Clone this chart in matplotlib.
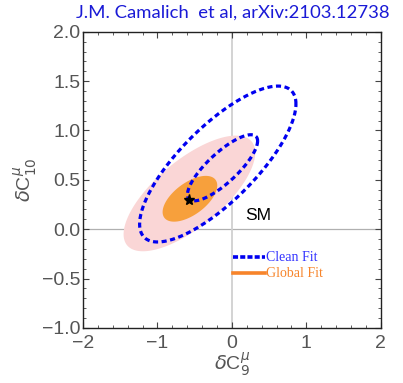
import numpy as np
import matplotlib
matplotlib.use("Agg")
import matplotlib.pyplot as plt
from matplotlib.ticker import MultipleLocator

# contour regions: centre, half-extent in x/y, correlation
global_center = [(-0.571, 0.362), (-0.564, 0.308)]   # 2 sigma, 1 sigma
global_half = [(0.884, 0.586), (0.367, 0.232)]
global_rho = [0.706, 0.58]
global_colors = ["#fad6d6", "#f7a03c"]

clean_center = [(-0.19, 0.66), (-0.126, 0.622)]   # outer, inner
clean_half = [(1.05, 0.79), (0.471, 0.335)]
clean_rho = [0.77, 0.809]

best_fit = (-0.58, 0.30)
sm_label_pos = (0.35, 0.14)

x_ticks = [-2, -1, 0, 1, 2]
y_ticks = [-1.0, -0.5, 0.0, 0.5, 1.0, 1.5, 2.0]


def ellipse(center, half, rho, n=400):
    t = np.linspace(0, 2 * np.pi, n)
    x = center[0] + half[0] * np.cos(t)
    y = center[1] + half[1] * (rho * np.cos(t) + np.sqrt(1 - rho**2) * np.sin(t))
    return x, y


fig = plt.figure(figsize=(4.03, 3.83), dpi=100)
ax = fig.add_axes([0.206, 0.144, 0.739, 0.773])
ax.set_xlim(-2, 2)
ax.set_ylim(-1, 2)

ax.axhline(0, color="#b0b0b0", lw=0.9, zorder=0)
ax.axvline(0, color="#d0d0d0", lw=1.3, zorder=0)

for c, h, r, col in zip(global_center, global_half, global_rho, global_colors):
    x, y = ellipse(c, h, r)
    ax.fill(x, y, color=col, lw=0, zorder=1)

for c, h, r in zip(clean_center, clean_half, clean_rho):
    x, y = ellipse(c, h, r)
    ax.plot(x, y, color="#0000f0", lw=2.3, dashes=(1.6, 1.1), zorder=3)

ax.plot(*best_fit, marker="*", color="black", ms=8, zorder=4)
ax.text(*sm_label_pos, "SM", fontsize=12.5, family="Liberation Sans",
        ha="center", va="center", color="black")

# hand-made legend inside the axes
ax.plot([0.01, 0.45], [-0.284, -0.284], color="#0000f0", lw=2.6, dashes=(1.4, 0.6))
ax.text(0.46, -0.284, "Clean Fit", color="#3333ff", fontsize=10,
        family="Liberation Serif", va="center")
ax.plot([0.01, 0.45], [-0.446, -0.446], color="#f7842a", lw=2.6)
ax.text(0.46, -0.446, "Global Fit", color="#f7842a", fontsize=10,
        family="Liberation Serif", va="center")

ax.set_xticks(x_ticks)
ax.set_yticks(y_ticks)
ax.set_xticklabels([str(v).replace("-", "\u2212") for v in x_ticks])
ax.set_yticklabels([f"{v:.1f}".replace("-", "\u2212") for v in y_ticks])
ax.xaxis.set_minor_locator(MultipleLocator(0.2))
ax.yaxis.set_minor_locator(MultipleLocator(0.1))
ax.tick_params(which="both", direction="in", top=True, right=True,
               colors="#444444", labelcolor="#555555")
ax.tick_params(which="major", length=4, width=0.8, labelsize=14)
ax.tick_params(axis="x", which="major", pad=5.5)
ax.tick_params(axis="y", which="major", pad=2)
ax.tick_params(which="minor", length=2.5, width=0.6)
for lab in ax.get_xticklabels() + ax.get_yticklabels():
    lab.set_family("Liberation Sans")
for s in ax.spines.values():
    s.set_color("#222222")
    s.set_linewidth(1.0)

ax.set_xlabel(r"$\delta\mathregular{C}_9^{\mu}$", fontsize=14, color="#555555",
              family="Liberation Sans", labelpad=-1)
ax.set_ylabel(r"$\delta\mathregular{C}_{10}^{\mu}$", fontsize=14, color="#555555",
              family="Liberation Sans", labelpad=2)

fig.text(0.577, 0.968, "J.M. Camalich  et al, arXiv:2103.12738", color="#1a1ad6",
         fontsize=13.3, family="Lato", ha="center", va="center")

fig.savefig("out.png", dpi=100)
